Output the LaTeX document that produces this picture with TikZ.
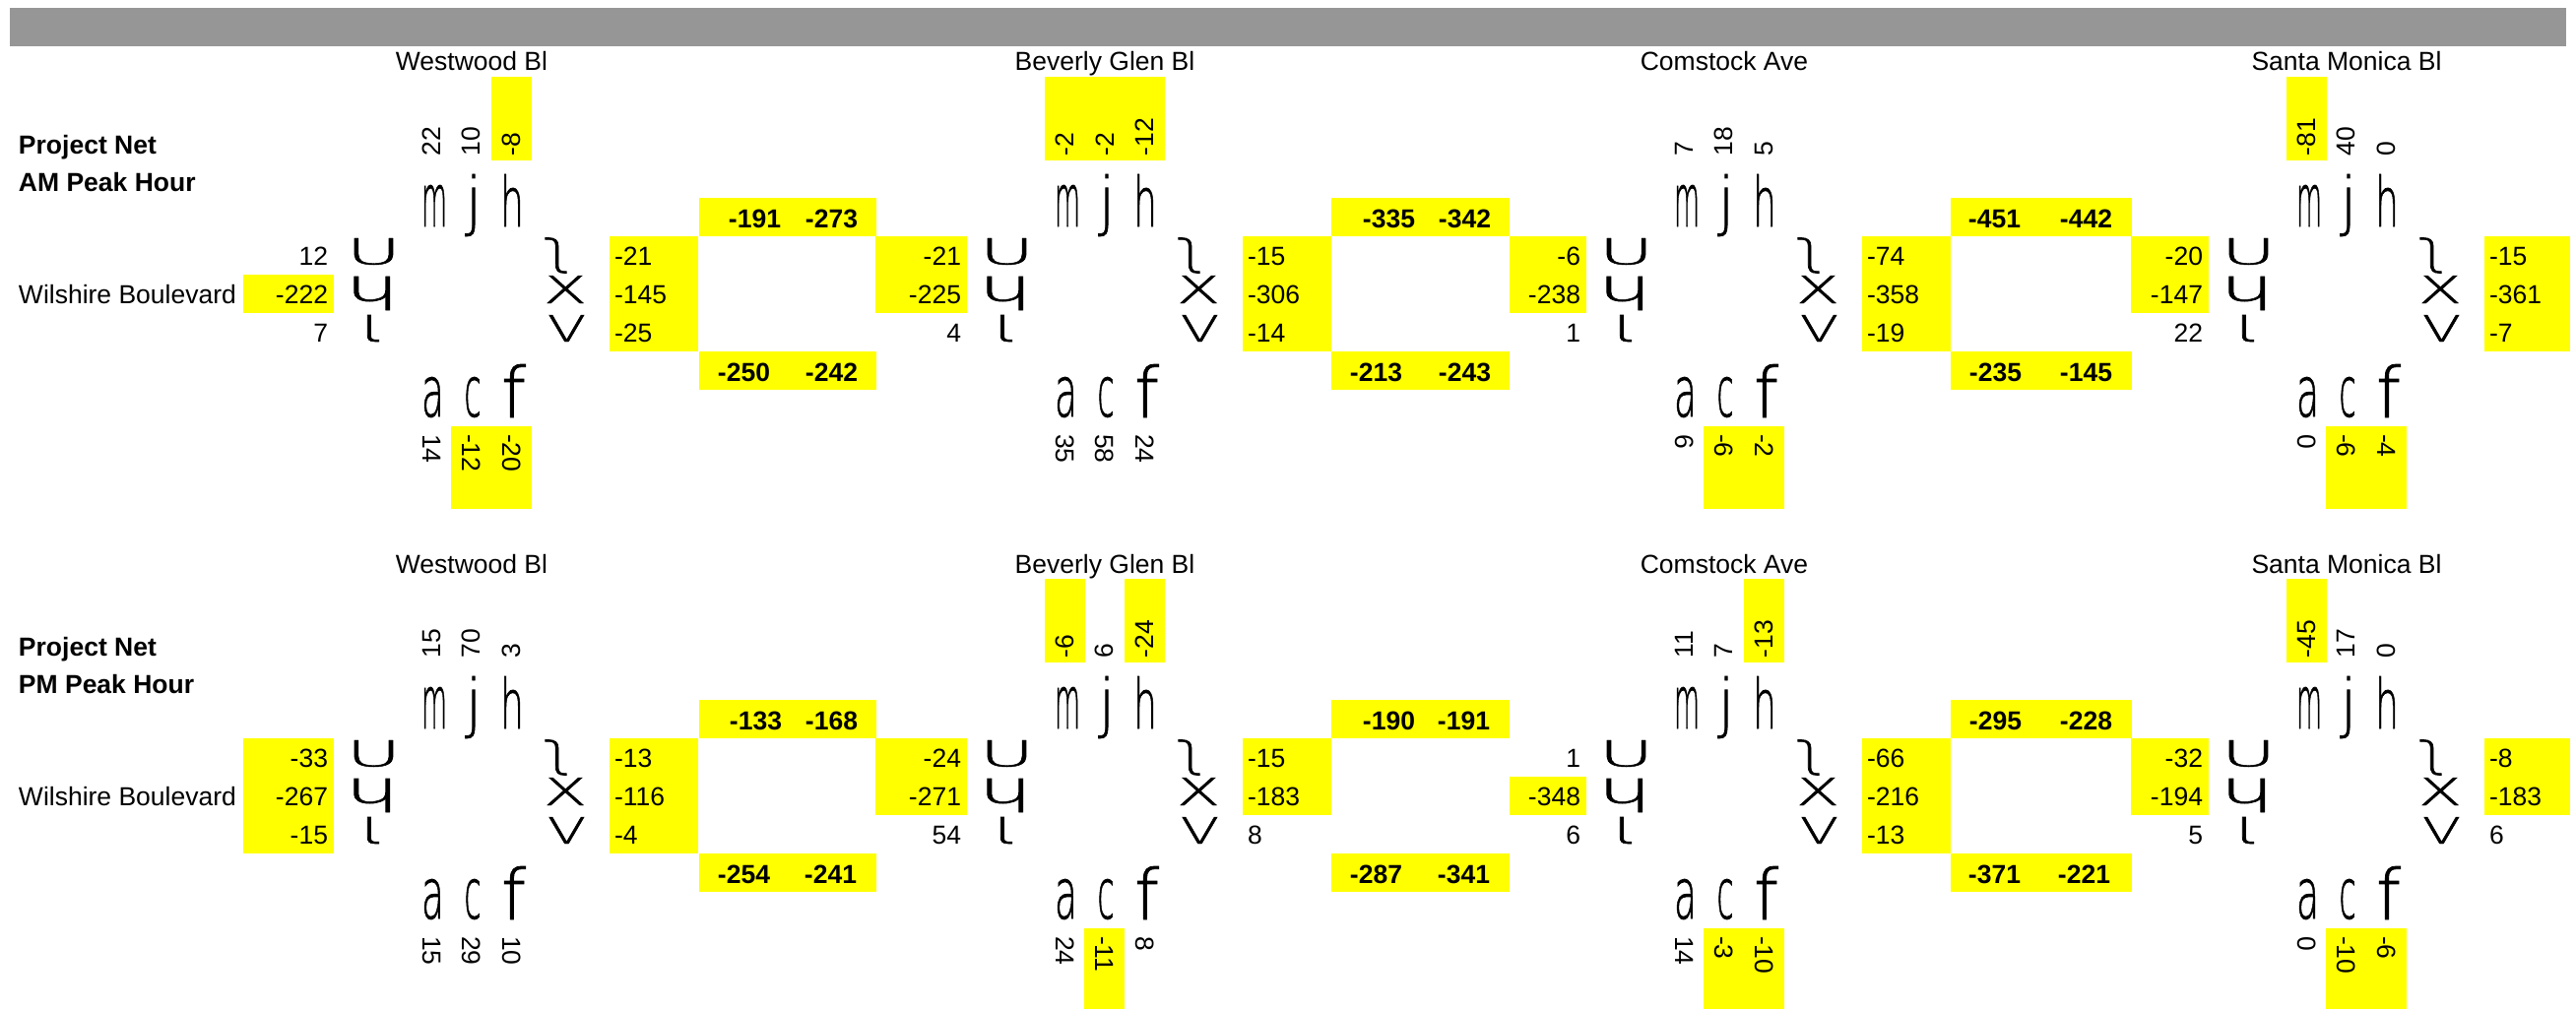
\documentclass[tikz,border=0pt]{standalone}
\usepackage{fontspec}
\usepackage{graphicx}
\setmainfont{Liberation Sans}
\IfFontExistsTF{DejaVu Sans ExtraLight}
  {\newfontfamily\glf{DejaVu Sans ExtraLight}[RawFeature={embolden=1.2}]}
  {\IfFontExistsTF{Fira Sans Light}
     {\newfontfamily\glf{Fira Sans Light}}
     {\newfontfamily\glf{DejaVu Sans}}}
\newfontfamily\glr{DejaVu Sans}
\newcommand\gch[1]{\glf\iffontchar\font`#1 #1\else\glr #1\fi}
\definecolor{ylw}{RGB}{255,255,0}
\definecolor{barc}{RGB}{150,150,150}
\tikzset{
  num/.style={inner sep=0pt,outer sep=0pt,font=\fontsize{26.5}{30}\selectfont},
  bnum/.style={inner sep=0pt,outer sep=0pt,font=\fontsize{26.5}{30}\selectfont\bfseries},
  glyph/.style={inner sep=0pt,outer sep=0pt}
}
% top value: id, X0, dy, col, value, yellow
\newcommand\TV[6]{\ifnum#6=1 \fill[ylw] ({#2+40.5*(#4-1)-0.3},{78+#3}) rectangle ({#2+40.5*#4+0.3},{163+#3});\fi
  \node[num,rotate=90,anchor=west] (#1t#4) at ({#2+40.5*#4-20.25},{158+#3}) {#5};}
% bottom value
\newcommand\BV[6]{\ifnum#6=1 \fill[ylw] ({#2+40.5*(#4-1)-0.3},{433+#3}) rectangle ({#2+40.5*#4+0.3},{517+#3});\fi
  \node[num,rotate=-90,anchor=west] (#1b#4) at ({#2+40.5*#4-20.25},{441+#3}) {#5};}
% left value: id, X0, dy, row, value, yellow, left edge
\newcommand\LV[7]{\ifnum#6=1 \fill[ylw] (#7,{240+39*(#4-1)+#3-0.3}) rectangle ({#2-79},{240+39*#4+#3+0.3});\fi
  \node[num,anchor=base east] (#1l#4) at ({#2-85},{269+39*(#4-1)+#3}) {#5};}
% right value
\newcommand\RV[6]{\ifnum#6=1 \fill[ylw] ({#2+201},{240+39*(#4-1)+#3-0.3}) rectangle ({min(#2+291,2610)},{240+39*#4+#3+0.3});\fi
  \node[num,anchor=base west] (#1r#4) at ({#2+206},{269+39*(#4-1)+#3}) {#5};}
% glyph
\newcommand\GL[6]{\node[glyph] (#1) at ({#2},{#3}) {\resizebox*{#4pt}{#5pt}{\gch{#6}}};}
% intersection: id, X0, dy, title
\newcommand\Isect[4]{%
  \node[num,anchor=base] (#1title) at ({#2+61},{72+#3}) {#4};
  \GL{#1gm}{#2+23}{209+#3}{26}{42}{m}
  \GL{#1gj}{#2+63}{208.5+#3}{15}{63}{j}
  \GL{#1gh}{#2+102}{203.5+#3}{24}{53}{h}
  \GL{#1ga}{#2+21.5}{403.5+#3}{23}{41}{a}
  \GL{#1gc}{#2+62}{403.5+#3}{17}{41}{c}
  \GL{#1gf}{#2+103.5}{397+#3}{25}{54}{f}
  \GL{#1gl1}{#2-38.5}{255.5+#3}{56}{27}{U}
  \GL{#1gl2}{#2-40.5}{298+#3}{55}{34}{ɥ}
  \GL{#1gl3}{#2-39}{333.5+#3}{28}{27}{ι}
  \GL{#1gr1}{#2+147.5}{259.5+#3}{28}{36}{ʅ}
  \GL{#1gr2}{#2+156}{294+#3}{44}{28}{X}
  \GL{#1gr3}{#2+157.5}{333.5+#3}{39}{27}{V}
}
\begin{document}
\begin{tikzpicture}[x=1pt,y=-1pt]
\useasboundingbox (0,0) rectangle (2616,1025);
\fill[white] (0,0) rectangle (2616,1025);
\fill[barc] (10,8) rectangle (2606,47);

% ---------- labels ----------
\node[bnum,anchor=base west] (pn1) at (19,156) {Project Net};
\node[bnum,anchor=base west] (ph1) at (19,194) {AM Peak Hour};
\node[num,anchor=base west] (wb1) at (19,308) {Wilshire Boulevard};
\node[bnum,anchor=base west] (pn2) at (19,666) {Project Net};
\node[bnum,anchor=base west] (ph2) at (19,704) {PM Peak Hour};
\node[num,anchor=base west] (wb2) at (19,818) {Wilshire Boulevard};

% ---------- middle boxes ----------
\foreach \dy in {0,510}{
  \fill[ylw] (710,{201+\dy}) rectangle (890,{240+\dy});
  \fill[ylw] (710,{357+\dy}) rectangle (890,{396+\dy});
  \fill[ylw] (1352,{201+\dy}) rectangle (1533,{240+\dy});
  \fill[ylw] (1352,{357+\dy}) rectangle (1533,{396+\dy});
  \fill[ylw] (1981,{201+\dy}) rectangle (2165,{240+\dy});
  \fill[ylw] (1981,{357+\dy}) rectangle (2165,{396+\dy});
}
% AM middle
\node[bnum,anchor=base east] (m1a) at (793,231) {-191};
\node[bnum,anchor=base east] (m1b) at (871,231) {-273};
\node[bnum,anchor=base east] (m1c) at (782,387) {-250};
\node[bnum,anchor=base east] (m1d) at (871,387) {-242};
\node[bnum,anchor=base east] (m2a) at (1437,231) {-335};
\node[bnum,anchor=base east] (m2b) at (1514,231) {-342};
\node[bnum,anchor=base east] (m2c) at (1424,387) {-213};
\node[bnum,anchor=base east] (m2d) at (1514,387) {-243};
\node[bnum,anchor=base east] (m3a) at (2052,231) {-451};
\node[bnum,anchor=base east] (m3b) at (2145,231) {-442};
\node[bnum,anchor=base east] (m3c) at (2053,387) {-235};
\node[bnum,anchor=base east] (m3d) at (2145,387) {-145};
% PM middle
\node[bnum,anchor=base east] (n1a) at (794,741) {-133};
\node[bnum,anchor=base east] (n1b) at (871,741) {-168};
\node[bnum,anchor=base east] (n1c) at (782,897) {-254};
\node[bnum,anchor=base east] (n1d) at (870,897) {-241};
\node[bnum,anchor=base east] (n2a) at (1437,741) {-190};
\node[bnum,anchor=base east] (n2b) at (1513,741) {-191};
\node[bnum,anchor=base east] (n2c) at (1424,897) {-287};
\node[bnum,anchor=base east] (n2d) at (1513,897) {-341};
\node[bnum,anchor=base east] (n3a) at (2053,741) {-295};
\node[bnum,anchor=base east] (n3b) at (2145,741) {-228};
\node[bnum,anchor=base east] (n3c) at (2052,897) {-371};
\node[bnum,anchor=base east] (n3d) at (2143,897) {-221};

% ================= AM =================
% Westwood
\TV{WA}{418}{0}{1}{22}{0}\TV{WA}{418}{0}{2}{10}{0}\TV{WA}{418}{0}{3}{-8}{1}
\LV{WA}{418}{0}{1}{12}{0}{247}\LV{WA}{418}{0}{2}{-222}{1}{247}\LV{WA}{418}{0}{3}{7}{0}{247}
\RV{WA}{418}{0}{1}{-21}{1}\RV{WA}{418}{0}{2}{-145}{1}\RV{WA}{418}{0}{3}{-25}{1}
\BV{WA}{418}{0}{1}{14}{0}\BV{WA}{418}{0}{2}{-12}{1}\BV{WA}{418}{0}{3}{-20}{1}
\Isect{WA}{418}{0}{Westwood Bl}
% Beverly Glen
\TV{BA}{1061}{0}{1}{-2}{1}\TV{BA}{1061}{0}{2}{-2}{1}\TV{BA}{1061}{0}{3}{-12}{1}
\LV{BA}{1061}{0}{1}{-21}{1}{889}\LV{BA}{1061}{0}{2}{-225}{1}{889}\LV{BA}{1061}{0}{3}{4}{0}{889}
\RV{BA}{1061}{0}{1}{-15}{1}\RV{BA}{1061}{0}{2}{-306}{1}\RV{BA}{1061}{0}{3}{-14}{1}
\BV{BA}{1061}{0}{1}{35}{0}\BV{BA}{1061}{0}{2}{58}{0}\BV{BA}{1061}{0}{3}{24}{0}
\Isect{BA}{1061}{0}{Beverly Glen Bl}
% Comstock
\TV{CA}{1690}{0}{1}{7}{0}\TV{CA}{1690}{0}{2}{18}{0}\TV{CA}{1690}{0}{3}{5}{0}
\LV{CA}{1690}{0}{1}{-6}{1}{1533}\LV{CA}{1690}{0}{2}{-238}{1}{1533}\LV{CA}{1690}{0}{3}{1}{0}{1533}
\RV{CA}{1690}{0}{1}{-74}{1}\RV{CA}{1690}{0}{2}{-358}{1}\RV{CA}{1690}{0}{3}{-19}{1}
\BV{CA}{1690}{0}{1}{6}{0}\BV{CA}{1690}{0}{2}{-6}{1}\BV{CA}{1690}{0}{3}{-2}{1}
\Isect{CA}{1690}{0}{Comstock Ave}
% Santa Monica
\TV{SA}{2322}{0}{1}{-81}{1}\TV{SA}{2322}{0}{2}{40}{0}\TV{SA}{2322}{0}{3}{0}{0}
\LV{SA}{2322}{0}{1}{-20}{1}{2164}\LV{SA}{2322}{0}{2}{-147}{1}{2164}\LV{SA}{2322}{0}{3}{22}{0}{2164}
\RV{SA}{2322}{0}{1}{-15}{1}\RV{SA}{2322}{0}{2}{-361}{1}\RV{SA}{2322}{0}{3}{-7}{1}
\BV{SA}{2322}{0}{1}{0}{0}\BV{SA}{2322}{0}{2}{-6}{1}\BV{SA}{2322}{0}{3}{-4}{1}
\Isect{SA}{2322}{0}{Santa Monica Bl}

% ================= PM =================
% Westwood
\TV{WP}{418}{510}{1}{15}{0}\TV{WP}{418}{510}{2}{70}{0}\TV{WP}{418}{510}{3}{3}{0}
\LV{WP}{418}{510}{1}{-33}{1}{247}\LV{WP}{418}{510}{2}{-267}{1}{247}\LV{WP}{418}{510}{3}{-15}{1}{247}
\RV{WP}{418}{510}{1}{-13}{1}\RV{WP}{418}{510}{2}{-116}{1}\RV{WP}{418}{510}{3}{-4}{1}
\BV{WP}{418}{510}{1}{15}{0}\BV{WP}{418}{510}{2}{29}{0}\BV{WP}{418}{510}{3}{10}{0}
\Isect{WP}{418}{510}{Westwood Bl}
% Beverly Glen
\TV{BP}{1061}{510}{1}{-6}{1}\TV{BP}{1061}{510}{2}{6}{0}\TV{BP}{1061}{510}{3}{-24}{1}
\LV{BP}{1061}{510}{1}{-24}{1}{889}\LV{BP}{1061}{510}{2}{-271}{1}{889}\LV{BP}{1061}{510}{3}{54}{0}{889}
\RV{BP}{1061}{510}{1}{-15}{1}\RV{BP}{1061}{510}{2}{-183}{1}\RV{BP}{1061}{510}{3}{8}{0}
\BV{BP}{1061}{510}{1}{24}{0}\BV{BP}{1061}{510}{2}{-11}{1}\BV{BP}{1061}{510}{3}{8}{0}
\Isect{BP}{1061}{510}{Beverly Glen Bl}
% Comstock
\TV{CP}{1690}{510}{1}{11}{0}\TV{CP}{1690}{510}{2}{7}{0}\TV{CP}{1690}{510}{3}{-13}{1}
\LV{CP}{1690}{510}{1}{1}{0}{1533}\LV{CP}{1690}{510}{2}{-348}{1}{1533}\LV{CP}{1690}{510}{3}{6}{0}{1533}
\RV{CP}{1690}{510}{1}{-66}{1}\RV{CP}{1690}{510}{2}{-216}{1}\RV{CP}{1690}{510}{3}{-13}{1}
\BV{CP}{1690}{510}{1}{14}{0}\BV{CP}{1690}{510}{2}{-3}{1}\BV{CP}{1690}{510}{3}{-10}{1}
\Isect{CP}{1690}{510}{Comstock Ave}
% Santa Monica
\TV{SP}{2322}{510}{1}{-45}{1}\TV{SP}{2322}{510}{2}{17}{0}\TV{SP}{2322}{510}{3}{0}{0}
\LV{SP}{2322}{510}{1}{-32}{1}{2164}\LV{SP}{2322}{510}{2}{-194}{1}{2164}\LV{SP}{2322}{510}{3}{5}{0}{2164}
\RV{SP}{2322}{510}{1}{-8}{1}\RV{SP}{2322}{510}{2}{-183}{1}\RV{SP}{2322}{510}{3}{6}{0}
\BV{SP}{2322}{510}{1}{0}{0}\BV{SP}{2322}{510}{2}{-10}{1}\BV{SP}{2322}{510}{3}{-6}{1}
\Isect{SP}{2322}{510}{Santa Monica Bl}
\end{tikzpicture}
\end{document}
